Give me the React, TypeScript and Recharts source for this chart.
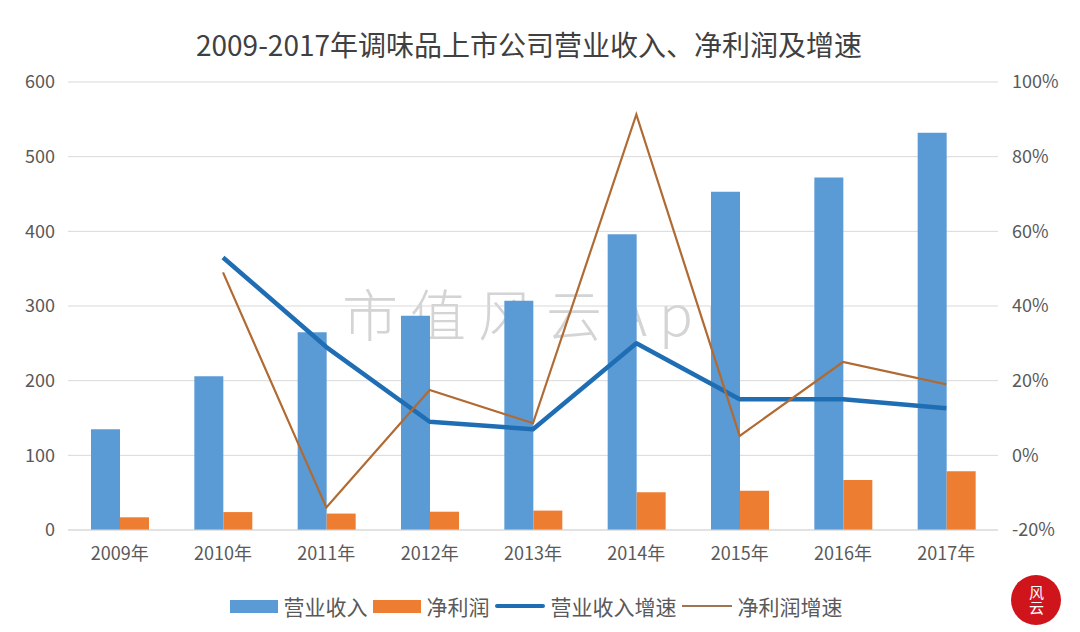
import React from 'react';
import {
  ComposedChart,
  Bar,
  Line,
  XAxis,
  YAxis,
  CartesianGrid,
  Legend,
} from 'recharts';

const years = ['2009年', '2010年', '2011年', '2012年', '2013年', '2014年', '2015年', '2016年', '2017年'];
const revenue = [135, 206, 265, 287, 307, 396, 453, 472, 532];
const netProfit = [17, 24, 22, 24.5, 26, 50.5, 52.7, 67, 78.6];
const revenueGrowth = [null, 53, 29, 9, 7, 30, 15, 15, 12.6];
const profitGrowth = [null, 49, -14, 17.5, 8.6, 91.3, 5.2, 25, 19];

const leftTicks = [0, 100, 200, 300, 400, 500, 600];
const rightTicks = [-20, 0, 20, 40, 60, 80, 100];

const seriesNames = ['营业收入', '净利润', '营业收入增速', '净利润增速'];
const title = '2009-2017年调味品上市公司营业收入、净利润及增速';
const watermark = '市值风云App';
const logoText = '风云';

const data = years.map((y, i) => ({
  year: y,
  revenue: revenue[i],
  netProfit: netProfit[i],
  revenueGrowth: revenueGrowth[i],
  profitGrowth: profitGrowth[i],
}));

const C_BLUE = '#5B9BD5';
const C_ORANGE = '#ED7D31';
const C_LINE_BLUE = '#1F6EB4';
const C_LINE_BROWN = '#B06A32';
const FONT = '"Noto Sans CJK SC", "Noto Sans", sans-serif';
const TEXT = '#595959';

const renderLegend = () => {
  const markers = [
    <div key="m0" style={{ width: 48, height: 13, background: C_BLUE }} />,
    <div key="m1" style={{ width: 48, height: 13, background: C_ORANGE }} />,
    <div key="m2" style={{ width: 50, height: 4, background: C_LINE_BLUE, borderRadius: 2 }} />,
    <div key="m3" style={{ width: 50, height: 2.5, background: '#9E7550' }} />,
  ];
  return (
    <div
      style={{
        display: 'flex',
        justifyContent: 'center',
        alignItems: 'center',
        fontFamily: FONT,
        fontSize: 21,
        color: TEXT,
        height: 30,
        paddingRight: 8,
      }}
    >
      {seriesNames.map((n, i) => (
        <div key={n} style={{ display: 'flex', alignItems: 'center', marginRight: i < 3 ? 5 : 0 }}>
          {markers[i]}
          <span style={{ marginLeft: 6, lineHeight: '30px' }}>{n}</span>
        </div>
      ))}
    </div>
  );
};

export default function App() {
  return (
    <div
      style={{
        position: 'absolute',
        left: 0,
        top: 0,
        width: 1080,
        height: 632,
        background: '#ffffff',
        overflow: 'hidden',
        fontFamily: FONT,
      }}
    >
      <div
        style={{
          position: 'absolute',
          left: 0,
          top: 26,
          width: 1080,
          textAlign: 'center',
          fontSize: 28,
          lineHeight: '36px',
          color: '#404040',
          paddingRight: 22,
          boxSizing: 'border-box',
        }}
      >
        {title}
      </div>
      <div
        style={{
          position: 'absolute',
          left: 342,
          top: 272,
          fontSize: 56,
          lineHeight: '80px',
          letterSpacing: 12,
          color: '#d4d4d4',
          fontWeight: 300,
          fontFamily: '"Noto Sans CJK SC", serif',
          whiteSpace: 'nowrap',
        }}
      >
        {watermark}
      </div>
      <div style={{ position: 'absolute', left: 0, top: 0 }}>
        <ComposedChart
          width={1080}
          height={632}
          data={data}
          margin={{ top: 82, right: 0, bottom: 62, left: 0 }}
          barGap={0}
        >
          <CartesianGrid yAxisId="left" vertical={false} stroke="#d9d9d9" strokeWidth={1} />
          <XAxis
            dataKey="year"
            height={40}
            tickLine={false}
            tickSize={0}
            tickMargin={17}
            axisLine={{ stroke: '#d9d9d9' }}
            tick={{ fontSize: 18, fill: TEXT, fontFamily: FONT }}
            interval={0}
          />
          <YAxis
            yAxisId="left"
            orientation="left"
            width={68}
            domain={[0, 600]}
            ticks={leftTicks}
            tickLine={false}
            tickSize={0}
            tickMargin={13}
            axisLine={false}
            tick={{ fontSize: 18, fill: TEXT, fontFamily: FONT }}
          />
          <YAxis
            yAxisId="right"
            orientation="right"
            width={82}
            domain={[-20, 100]}
            ticks={rightTicks}
            tickFormatter={(v: number) => `${v}%`}
            tickLine={false}
            tickSize={0}
            tickMargin={14}
            axisLine={false}
            tick={{ fontSize: 18, fill: TEXT, fontFamily: FONT }}
          />
          <Legend
            layout="horizontal"
            verticalAlign="middle"
            align="center"
            content={renderLegend}
            wrapperStyle={{ top: 591, left: 0, width: 1080 }}
          />
          <Bar
            yAxisId="left"
            dataKey="revenue"
            name={seriesNames[0]}
            fill={C_BLUE}
            barSize={29}
            isAnimationActive={false}
          />
          <Bar
            yAxisId="left"
            dataKey="netProfit"
            name={seriesNames[1]}
            fill={C_ORANGE}
            barSize={29}
            isAnimationActive={false}
          />
          <Line
            yAxisId="right"
            type="linear"
            dataKey="revenueGrowth"
            name={seriesNames[2]}
            stroke={C_LINE_BLUE}
            strokeWidth={4.5}
            dot={false}
            activeDot={false}
            strokeLinejoin="round"
            isAnimationActive={false}
          />
          <Line
            yAxisId="right"
            type="linear"
            dataKey="profitGrowth"
            name={seriesNames[3]}
            stroke={C_LINE_BROWN}
            strokeWidth={2.2}
            dot={false}
            activeDot={false}
            isAnimationActive={false}
          />
        </ComposedChart>
      </div>
      <div
        style={{
          position: 'absolute',
          left: 1011,
          top: 575,
          width: 50,
          height: 50,
          borderRadius: 25,
          background: '#D0141C',
          color: '#ffffff',
          display: 'flex',
          justifyContent: 'center',
          alignItems: 'center',
          fontFamily: FONT,
        }}
      >
        <span style={{ writingMode: 'vertical-rl', fontSize: 15, lineHeight: '16px' }}>{logoText}</span>
      </div>
    </div>
  );
}
